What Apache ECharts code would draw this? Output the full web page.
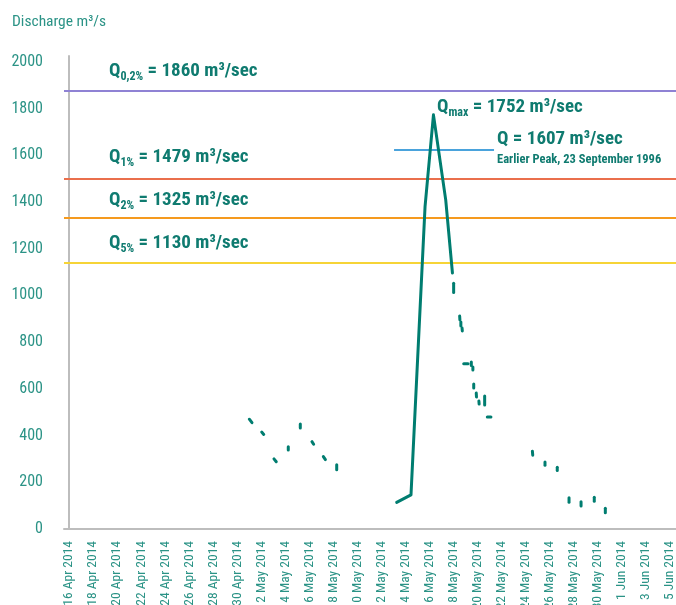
<!DOCTYPE html>
<html><head><meta charset="utf-8">
<script src="https://cdn.jsdelivr.net/npm/echarts@6/dist/echarts.min.js"></script>
<style>html,body{margin:0;padding:0;background:#fff}#c{width:676px;height:605px}</style>
</head><body><div id="c"></div>
<script>
// Day index 0 = 16 Apr 2014
const xTickDays = [0,2,4,6,8,10,12,14,16,18,20,22,24,26,28,30,32,34,36,38,40,42,44,46,48,50];
const xTickLabels = ['16 Apr 2014','18 Apr 2014','20 Apr 2014','22 Apr 2014','24 Apr 2014','26 Apr 2014','28 Apr 2014','30 Apr 2014','2 May 2014','4 May 2014','6 May 2014','8 May 2014','10 May 2014','12 May 2014','14 May 2014','16 May 2014','18 May 2014','20 May 2014','22 May 2014','24 May 2014','26 May 2014','28 May 2014','30 May 2014','1 Jun 2014','3 Jun 2014','5 Jun 2014'];
const yTicks = [0,200,400,600,800,1000,1200,1400,1600,1800,2000];

// continuous part of the hydrograph
const mainDay = [27.26, 28.45, 29.62, 30.32, 31.34, 31.9];
const mainQ   = [114, 146, 1380, 1773, 1409, 1096];

// short isolated record fragments (start/end of each)
const fragDay1 = [15.0, 16.03, 17.05, 18.24, 19.24, 20.21, 21.16, 22.27, 32.0, 32.5, 32.6, 32.7, 32.84, 33.47, 33.6, 33.67, 33.88, 34.1, 34.58, 34.8, 38.55, 39.6, 40.62, 41.6, 42.6, 43.7, 44.62];
const fragQ1   = [470, 415, 300, 352, 450, 374, 310, 275, 1052, 912, 886, 860, 707, 715, 694, 621, 582, 548, 569, 480, 333, 287, 264, 134, 117, 136, 89];
const fragDay2 = [15.22, 16.2, 17.24, 18.24, 19.24, 20.35, 21.33, 22.27, 32.0, 32.52, 32.6, 32.72, 33.2, 33.47, 33.6, 33.67, 33.9, 34.12, 34.58, 35.1, 38.58, 39.6, 40.62, 41.6, 42.6, 43.7, 44.62];
const fragQ2   = [455, 405, 288, 338, 432, 363, 297, 254, 1012, 895, 869, 848, 707, 700, 681, 604, 565, 535, 531, 480, 316, 273, 250, 114, 98, 119, 70];

// design flood levels (as drawn) and colours
const thresholdQ = [1877, 1500, 1331, 1138];
const thresholdColors = ['#8f82d4', '#ea6f4c', '#f59a1e', '#f6d437'];
const earlierPeakQ = 1623;
const earlierPeakDays = [27.04, 35.36];

const TEAL = '#007d70';
const TXT = '#0f7b70';
const AX = '#2b9386';
const FONT = "'Roboto Condensed','Open Sans Condensed',sans-serif";

const series = [];
series.push({
  type: 'line', data: mainDay.map((d, i) => [d, mainQ[i]]),
  symbol: 'none', lineStyle: { color: TEAL, width: 3, cap: 'round', join: 'round' },
  silent: true, z: 5,
  markLine: {
    silent: true, symbol: 'none', label: { show: false },
    data: thresholdQ.map((q, i) => ({ yAxis: q, lineStyle: { color: thresholdColors[i], width: 2, type: 'solid' } })).concat([
      [{ coord: [earlierPeakDays[0], earlierPeakQ], lineStyle: { color: '#4aa3dc', width: 2, type: 'solid' } },
       { coord: [earlierPeakDays[1], earlierPeakQ] }]
    ])
  }
});
for (let i = 0; i < fragDay1.length; i++) {
  series.push({
    type: 'line', data: [[fragDay1[i], fragQ1[i]], [fragDay2[i], fragQ2[i]]],
    symbol: 'none', silent: true, z: 5,
    lineStyle: { color: TEAL, width: 3, cap: 'round', join: 'round' }
  });
}

function qText(sub, rest) {
  return '{q|Q}{s|' + sub + '}{q|' + rest + '}';
}
const richQ = {
  q: { fontFamily: FONT, fontSize: 19, fontWeight: 'bold', fill: TXT, lineHeight: 24, verticalAlign: 'middle' },
  s: { fontFamily: FONT, fontSize: 12, fontWeight: 'bold', fill: TXT, lineHeight: 12, verticalAlign: 'bottom' }
};
function ann(x, y, sub, rest) {
  return { type: 'text', x: x, y: y, silent: true, z: 10,
    style: { text: qText(sub, rest), rich: richQ, fill: TXT, verticalAlign: 'middle', align: 'left', fontFamily: FONT, fontSize: 19, fontWeight: 'bold' } };
}

const chart = echarts.init(document.getElementById('c'), null, { renderer: 'canvas' });
chart.setOption({
  animation: false,
  backgroundColor: '#fff',
  grid: { left: 64, right: 0, top: 56, bottom: 76, outerBoundsMode: 'none', containLabel: false },
  xAxis: {
    type: 'value', min: -0.42, max: 50.5,
    axisLine: { show: true, lineStyle: { color: '#bdbdbd', width: 2 } },
    axisTick: { show: false }, splitLine: { show: false },
    axisLabel: {
      customValues: xTickDays, rotate: 90, margin: 12,
      fontFamily: FONT, fontSize: 13.5, color: AX,
      formatter: v => { const k = xTickDays.indexOf(Math.round(v)); return k >= 0 ? xTickLabels[k] : ''; }
    }
  },
  yAxis: {
    type: 'value', min: 0, max: 2025,
    axisLine: { show: true, lineStyle: { color: '#bdbdbd', width: 2 } },
    axisTick: { show: false }, splitLine: { show: false },
    axisLabel: { customValues: yTicks, margin: 21, fontFamily: FONT, fontSize: 16, color: AX, formatter: v => String(v) }
  },
  series: series,
  graphic: [
    { type: 'text', x: 12, y: 22, silent: true,
      style: { text: 'Discharge m³/s', fontFamily: FONT, fontSize: 15.5, fill: AX, verticalAlign: 'middle' } },
    ann(109, 71, '0,2%', ' = 1860 m³/sec'),
    ann(109, 157, '1%', ' = 1479 m³/sec'),
    ann(109, 200, '2%', ' = 1325 m³/sec'),
    ann(109, 243, '5%', ' = 1130 m³/sec'),
    ann(437, 107, 'max', ' = 1752 m³/sec'),
    { type: 'text', x: 497, y: 139, silent: true, z: 10,
      style: { text: 'Q = 1607 m³/sec', fontFamily: FONT, fontSize: 19, fontWeight: 'bold', fill: TXT, verticalAlign: 'middle' } },
    { type: 'text', x: 497, y: 159.5, silent: true, z: 10,
      style: { text: 'Earlier Peak, 23 September 1996', fontFamily: FONT, fontSize: 12.5, fontWeight: 'bold', fill: TXT, verticalAlign: 'middle' } }
  ]
});
</script>
</body></html>
